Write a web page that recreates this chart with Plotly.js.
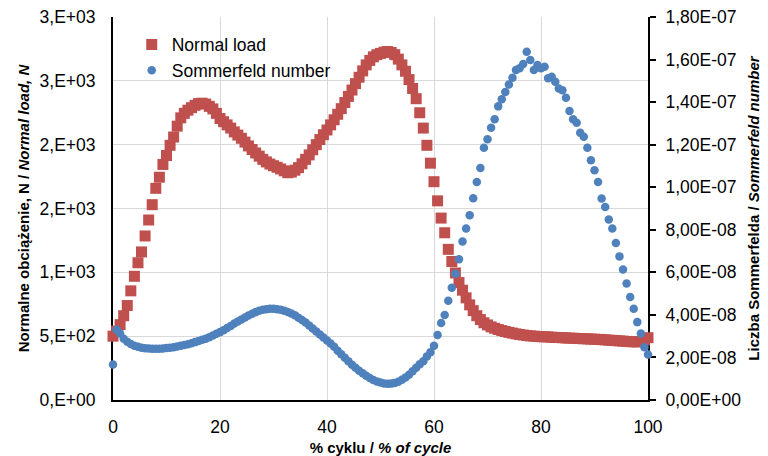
<!DOCTYPE html>
<html><head><meta charset="utf-8">
<script src="https://cdn.plot.ly/plotly-3.0.1.min.js"></script>
<style>html,body{margin:0;padding:0;background:#fff}#chart{width:768px;height:456px}</style>
</head><body><div id="chart"></div>
<script>
// % of cycle (151 samples)
const cyclePct = [0,0.67,1.33,2,2.67,3.33,4,4.67,5.33,6,6.67,7.33,8,8.67,9.33,10,10.67,11.33,12,12.67,13.33,14,14.67,15.33,16,16.67,17.33,18,18.67,19.33,
20,20.67,21.33,22,22.67,23.33,24,24.67,25.33,26,26.67,27.33,28,28.67,29.33,30,30.67,31.33,32,32.67,33.33,34,34.67,35.33,36,36.67,37.33,38,38.67,39.33,
40,40.67,41.33,42,42.67,43.33,44,44.67,45.33,46,46.67,47.33,48,48.67,49.33,50,50.67,51.33,52,52.67,53.33,54,54.67,55.33,56,56.67,57.33,58,58.67,59.33,
60,60.67,61.33,62,62.67,63.33,64,64.67,65.33,66,66.67,67.33,68,68.67,69.33,70,70.67,71.33,72,72.67,73.33,74,74.67,75.33,76,76.67,77.33,78,78.67,79.33,
80,80.67,81.33,82,82.67,83.33,84,84.67,85.33,86,86.67,87.33,88,88.67,89.33,90,90.67,91.33,92,92.67,93.33,94,94.67,95.33,96,96.67,97.33,98,98.67,99.33,100];

// Normal load, N
const normalLoad = [500,540,590,660,740,855,969,1075,1160,1285,1410,1530,1658,1745,1845,1915,1995,2060,2145,2210,2245,2270,2290,2308,2322,2325,2318,2300,2280,2245,
2205,2180,2155,2130,2100,2075,2050,2020,1990,1962,1935,1910,1885,1865,1848,1835,1823,1810,1795,1780,1785,1800,1820,1850,1885,1920,1960,2000,2040,2078,
2115,2155,2195,2238,2282,2330,2378,2428,2478,2528,2578,2625,2660,2688,2705,2715,2725,2730,2722,2705,2670,2625,2575,2510,2440,2360,2250,2130,1995,1855,
1710,1560,1425,1310,1180,1085,995,920,860,800,745,700,660,630,605,588,573,562,552,544,536,530,524,518,513,509,505,502,500,498,
496,495,494,492,490,489,488,486,485,484,482,481,480,479,477,476,475,473,471,469,467,465,463,461,459,457,456,455,458,470,488];

// Sommerfeld number, in units of 1e-8
const sommerfeldE8 = [1.67,3.30,3.12,2.88,2.74,2.63,2.55,2.50,2.46,2.43,2.42,2.41,2.41,2.41,2.42,2.44,2.46,2.48,2.51,2.55,2.58,2.62,2.67,2.72,2.77,2.83,2.88,2.95,3.03,3.11,
3.19,3.28,3.38,3.48,3.59,3.69,3.78,3.88,3.97,4.05,4.13,4.19,4.24,4.27,4.29,4.29,4.27,4.24,4.20,4.14,4.06,3.98,3.87,3.76,3.64,3.50,3.36,3.22,3.08,2.94,
2.80,2.65,2.50,2.32,2.15,1.99,1.82,1.66,1.52,1.38,1.26,1.14,1.03,0.94,0.87,0.82,0.78,0.76,0.77,0.80,0.86,0.95,1.06,1.19,1.35,1.52,1.68,1.82,2.05,2.25,
2.55,3.05,3.62,4.00,4.66,5.28,5.93,6.62,7.45,8.06,8.68,9.48,10.25,10.90,11.85,12.25,12.80,13.20,13.80,14.13,14.48,14.83,15.14,15.51,15.59,15.79,16.37,15.98,15.51,15.74,
15.59,15.66,15.12,15.19,14.96,14.64,14.56,14.20,13.58,13.19,13.03,12.56,12.37,11.85,11.27,10.80,10.25,9.47,9.07,8.48,8.06,7.38,6.75,6.13,5.47,4.84,4.29,3.66,3.12,2.48,2.14];

const xTickVals = [0,20,40,60,80,100];
const loadTickVals = [0,500,1000,1500,2000,2500,3000];
const loadTickText = ["0,E+00","5,E+02","1,E+03","2,E+03","2,E+03","3,E+03","3,E+03"];
const sommTickValsE8 = [0,2,4,6,8,10,12,14,16,18];
const sommTickText = ["0,00E+00","2,00E-08","4,00E-08","6,00E-08","8,00E-08","1,00E-07","1,20E-07","1,40E-07","1,60E-07","1,80E-07"];

const sommerfeld = sommerfeldE8.map(v => v * 1e-8);
const sommTickVals = sommTickValsE8.map(v => v * 1e-8);

const FONT = '"Liberation Sans", Arial, sans-serif';
const traces = [
  {x: cyclePct, y: normalLoad, type: 'scatter', mode: 'markers', name: 'Normal load',
   marker: {symbol: 'square', size: 11, color: '#C0504D'}, cliponaxis: false, yaxis: 'y'},
  {x: cyclePct, y: sommerfeld, type: 'scatter', mode: 'markers', name: 'Sommerfeld number',
   marker: {symbol: 'circle', size: 8.5, color: '#4F81BD'}, cliponaxis: false, yaxis: 'y2'}
];
const layout = {
  width: 768, height: 456,
  margin: {l: 113, r: 120, t: 17, b: 56},
  paper_bgcolor: '#fff', plot_bgcolor: '#fff',
  font: {family: FONT, size: 17.5, color: '#000'},
  showlegend: true,
  legend: {x: 0.035, y: 0.975, xanchor: 'left', yanchor: 'top', bgcolor: 'rgba(0,0,0,0)',
           font: {size: 17.5, color: '#000'}, tracegroupgap: 0, itemsizing: 'trace'},
  xaxis: {range: [0, 100], tickvals: xTickVals, showgrid: true, gridcolor: '#D9D9D9', gridwidth: 1,
          showline: true, linecolor: '#000', linewidth: 2, zeroline: false, ticks: '',
          ticklabelstandoff: 10, layer: 'below traces', fixedrange: true,
          title: {text: '<b>% cyklu / <i>% of cycle</i></b>', font: {size: 15, color: '#000'}, standoff: 10}},
  yaxis: {range: [0, 3000], tickvals: loadTickVals, ticktext: loadTickText, showgrid: true, gridcolor: '#D9D9D9', gridwidth: 1,
          showline: true, linecolor: '#000', linewidth: 2, zeroline: false, ticks: '',
          ticklabelstandoff: 12, layer: 'below traces', fixedrange: true,
          title: {text: '<b>Normalne obciążenie, N / <i>Normal load, N</i></b>', font: {size: 15, color: '#000'}, standoff: 6}},
  yaxis2: {range: [0, 1.8e-7], overlaying: 'y', side: 'right', tickvals: sommTickVals, ticktext: sommTickText,
           showgrid: false, showline: true, linecolor: '#000', linewidth: 2, zeroline: false,
           ticks: 'outside', ticklen: 6, tickwidth: 2, tickcolor: '#000', ticklabelstandoff: 6,
           layer: 'below traces', fixedrange: true,
           title: {text: '<b>Liczba Sommerfelda / <i>Sommerfeld number</i></b>', font: {size: 15, color: '#000'}, standoff: 8}}
};
Plotly.newPlot('chart', traces, layout, {displayModeBar: false, staticPlot: true});
</script>
</body></html>
